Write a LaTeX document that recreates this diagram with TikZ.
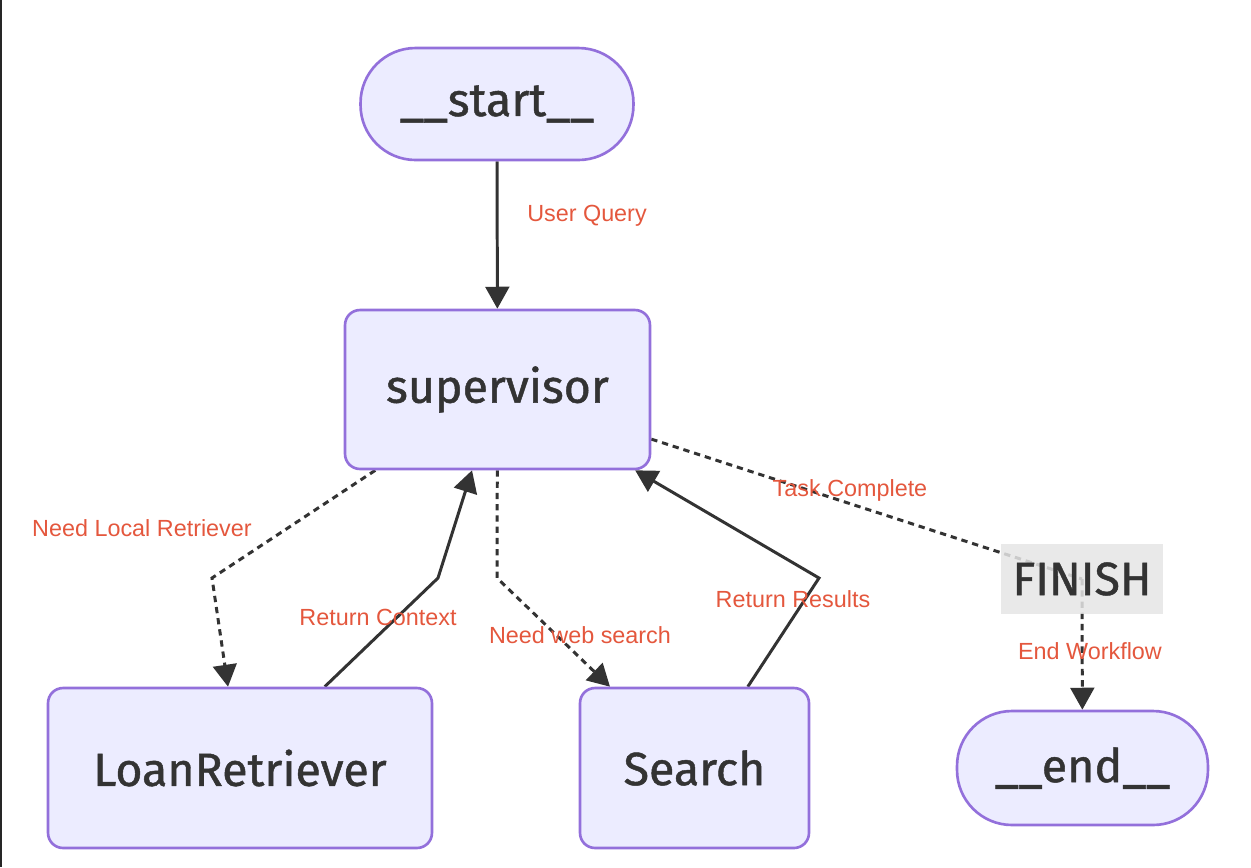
\documentclass[tikz,border=0pt]{standalone}
\usepackage{fontspec}
\setmainfont{Fira Sans}[FakeBold=1]
\newfontfamily\lblfont{Liberation Sans}
\usetikzlibrary{arrows.meta,backgrounds}
\definecolor{nodefill}{HTML}{ECECFF}
\definecolor{nodeline}{HTML}{9370DB}
\definecolor{ink}{HTML}{333333}
\definecolor{lblred}{HTML}{E4573D}

\begin{document}
\begin{tikzpicture}[x=0.02cm,y=-0.02cm,
  box/.style={draw=nodeline,fill=nodefill,line width=1.5pt,rounded corners=0.3cm,inner sep=0pt,text=ink,font=\fontsize{26.5}{30}\selectfont},
  term/.style={box,rounded corners=1.1cm},
  flow/.style={draw=ink,line width=1.7pt,-{Triangle[length=12.5pt,width=13.5pt]}},
  opt/.style={flow,dash pattern=on 3.6pt off 2.8pt},
  lbl/.style={text=lblred,font=\lblfont\fontsize{13.3}{15}\selectfont}]
\useasboundingbox (0,0) rectangle (1251,867);
\fill[black!85] (0,0) rectangle (2,867);

\node[term,minimum width=5.46cm,minimum height=2.24cm] (start) at (497,104) {\_\_start\_\_};
\node[box,minimum width=6.1cm,minimum height=3.18cm] (sup) at (497.5,389.5) {supervisor};
\node[box,minimum width=7.68cm,minimum height=3.2cm] (loan) at (240,768) {LoanRetriever};
\node[box,minimum width=4.58cm,minimum height=3.2cm] (search) at (694.5,768) {Search};
\node[fill=black!10,fill opacity=0.85,text opacity=1,text=ink,inner sep=0pt,minimum width=3.24cm,minimum height=1.4cm,font=\fontsize{26.5}{30}\selectfont] (fin) at (1082,579) {FINISH};
\node[term,minimum width=5.02cm,minimum height=2.28cm] (end) at (1082.5,768) {\_\_end\_\_};

\coordinate (b1) at (212,578);
\coordinate (b2) at (438,578);
\coordinate (b3) at (497,578);
\coordinate (b4) at (819,578);

\begin{pgfonlayer}{background}
\draw[flow] (start) -- (sup);
\draw[opt] (sup) -- (b1) -- (loan);
\draw[flow] (loan) -- (b2) -- (sup);
\draw[opt] (sup) -- (b3) -- (search);
\draw[flow] (search) -- (b4) -- (sup);
\draw[opt,-] (sup) -- (fin.center);
\draw[opt] (fin.center) -- (end);
\end{pgfonlayer}

\node[lbl] (l1) at (587,216) {User Query};
\node[lbl] (l2) at (142,528) {Need Local Retriever};
\node[lbl] (l3) at (378,617) {Return Context};
\node[lbl] (l4) at (580,635) {Need web search};
\node[lbl] (l5) at (793,599) {Return Results};
\node[lbl] (l6) at (850,490) {Task Complete};
\node[lbl] (l7) at (1090,651) {End Workflow};
\end{tikzpicture}
\end{document}
